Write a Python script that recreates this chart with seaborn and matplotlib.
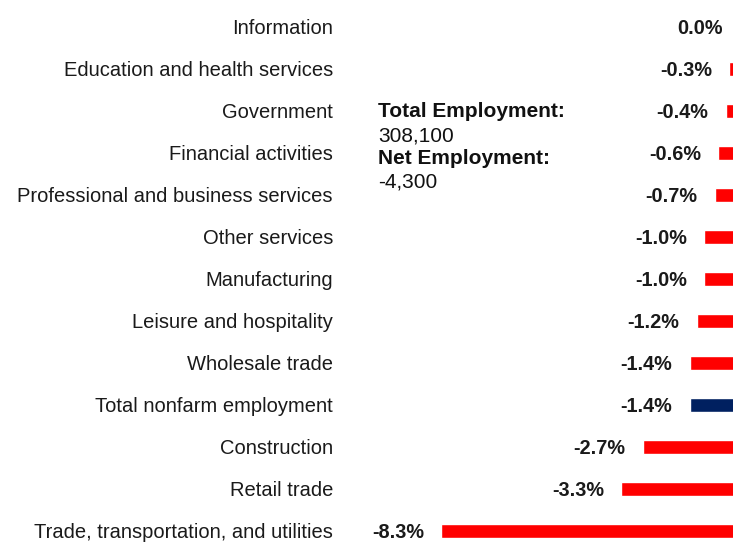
import pandas as pd
import seaborn as sns
import matplotlib.pyplot as plt

# Chart data
industries = [
    'Information',
    'Education and health services',
    'Government',
    'Financial activities',
    'Professional and business services',
    'Other services',
    'Manufacturing',
    'Leisure and hospitality',
    'Wholesale trade',
    'Total nonfarm employment',
    'Construction',
    'Retail trade',
    'Trade, transportation, and utilities',
]
pct_change = [0.0, -0.3, -0.4, -0.6, -0.7, -1.0, -1.0, -1.2, -1.4, -1.4, -2.7, -3.3, -8.3]
total_label = 'Total nonfarm employment'
total_employment = '308,100'
net_employment = '-4,300'

df = pd.DataFrame({'industry': industries, 'change': pct_change})

sns.set_style('white')
plt.rcParams['font.family'] = ['Liberation Sans', 'DejaVu Sans']

fig = plt.figure(figsize=(7.33, 5.44), dpi=100)
# axes runs past the right edge so zero sits just outside the picture
ax = fig.add_axes([344 / 733, -8 / 544, 396 / 733, 546 / 544])

colors = {k: ('#002060' if k == total_label else '#FF0000') for k in industries}
sns.barplot(data=df, y='industry', x='change', hue='industry', palette=colors,
            orient='h', width=0.34, dodge=False, legend=False, saturation=1, ax=ax)

ax.set_xlim(-11, 0)
ax.set_xlabel('')
ax.set_ylabel('')
ax.set_xticks([])
ax.tick_params(axis='y', length=0, pad=8, labelsize=14.5, labelcolor='#1a1a1a')
sns.despine(ax=ax, left=True, bottom=True, top=True, right=True)

# value labels just left of each bar end
for i, v in enumerate(pct_change):
    ax.annotate(f'{v:.1f}%', xy=(v, i), xytext=(-12.5, -1), textcoords='offset points',
                ha='right', va='center', fontsize=14.3, fontweight='bold', color='#1a1a1a')

fig.text(378 / 733, 1 - 112 / 544, 'Total Employment:', fontsize=15, fontweight='bold',
         va='center', color='#111111')
fig.text(378 / 733, 1 - 136 / 544, total_employment, fontsize=15, va='center', color='#111111')
fig.text(378 / 733, 1 - 159 / 544, 'Net Employment:', fontsize=15, fontweight='bold',
         va='center', color='#111111')
fig.text(378 / 733, 1 - 182 / 544, net_employment, fontsize=15, va='center', color='#111111')

fig.savefig('out.png', dpi=100)
